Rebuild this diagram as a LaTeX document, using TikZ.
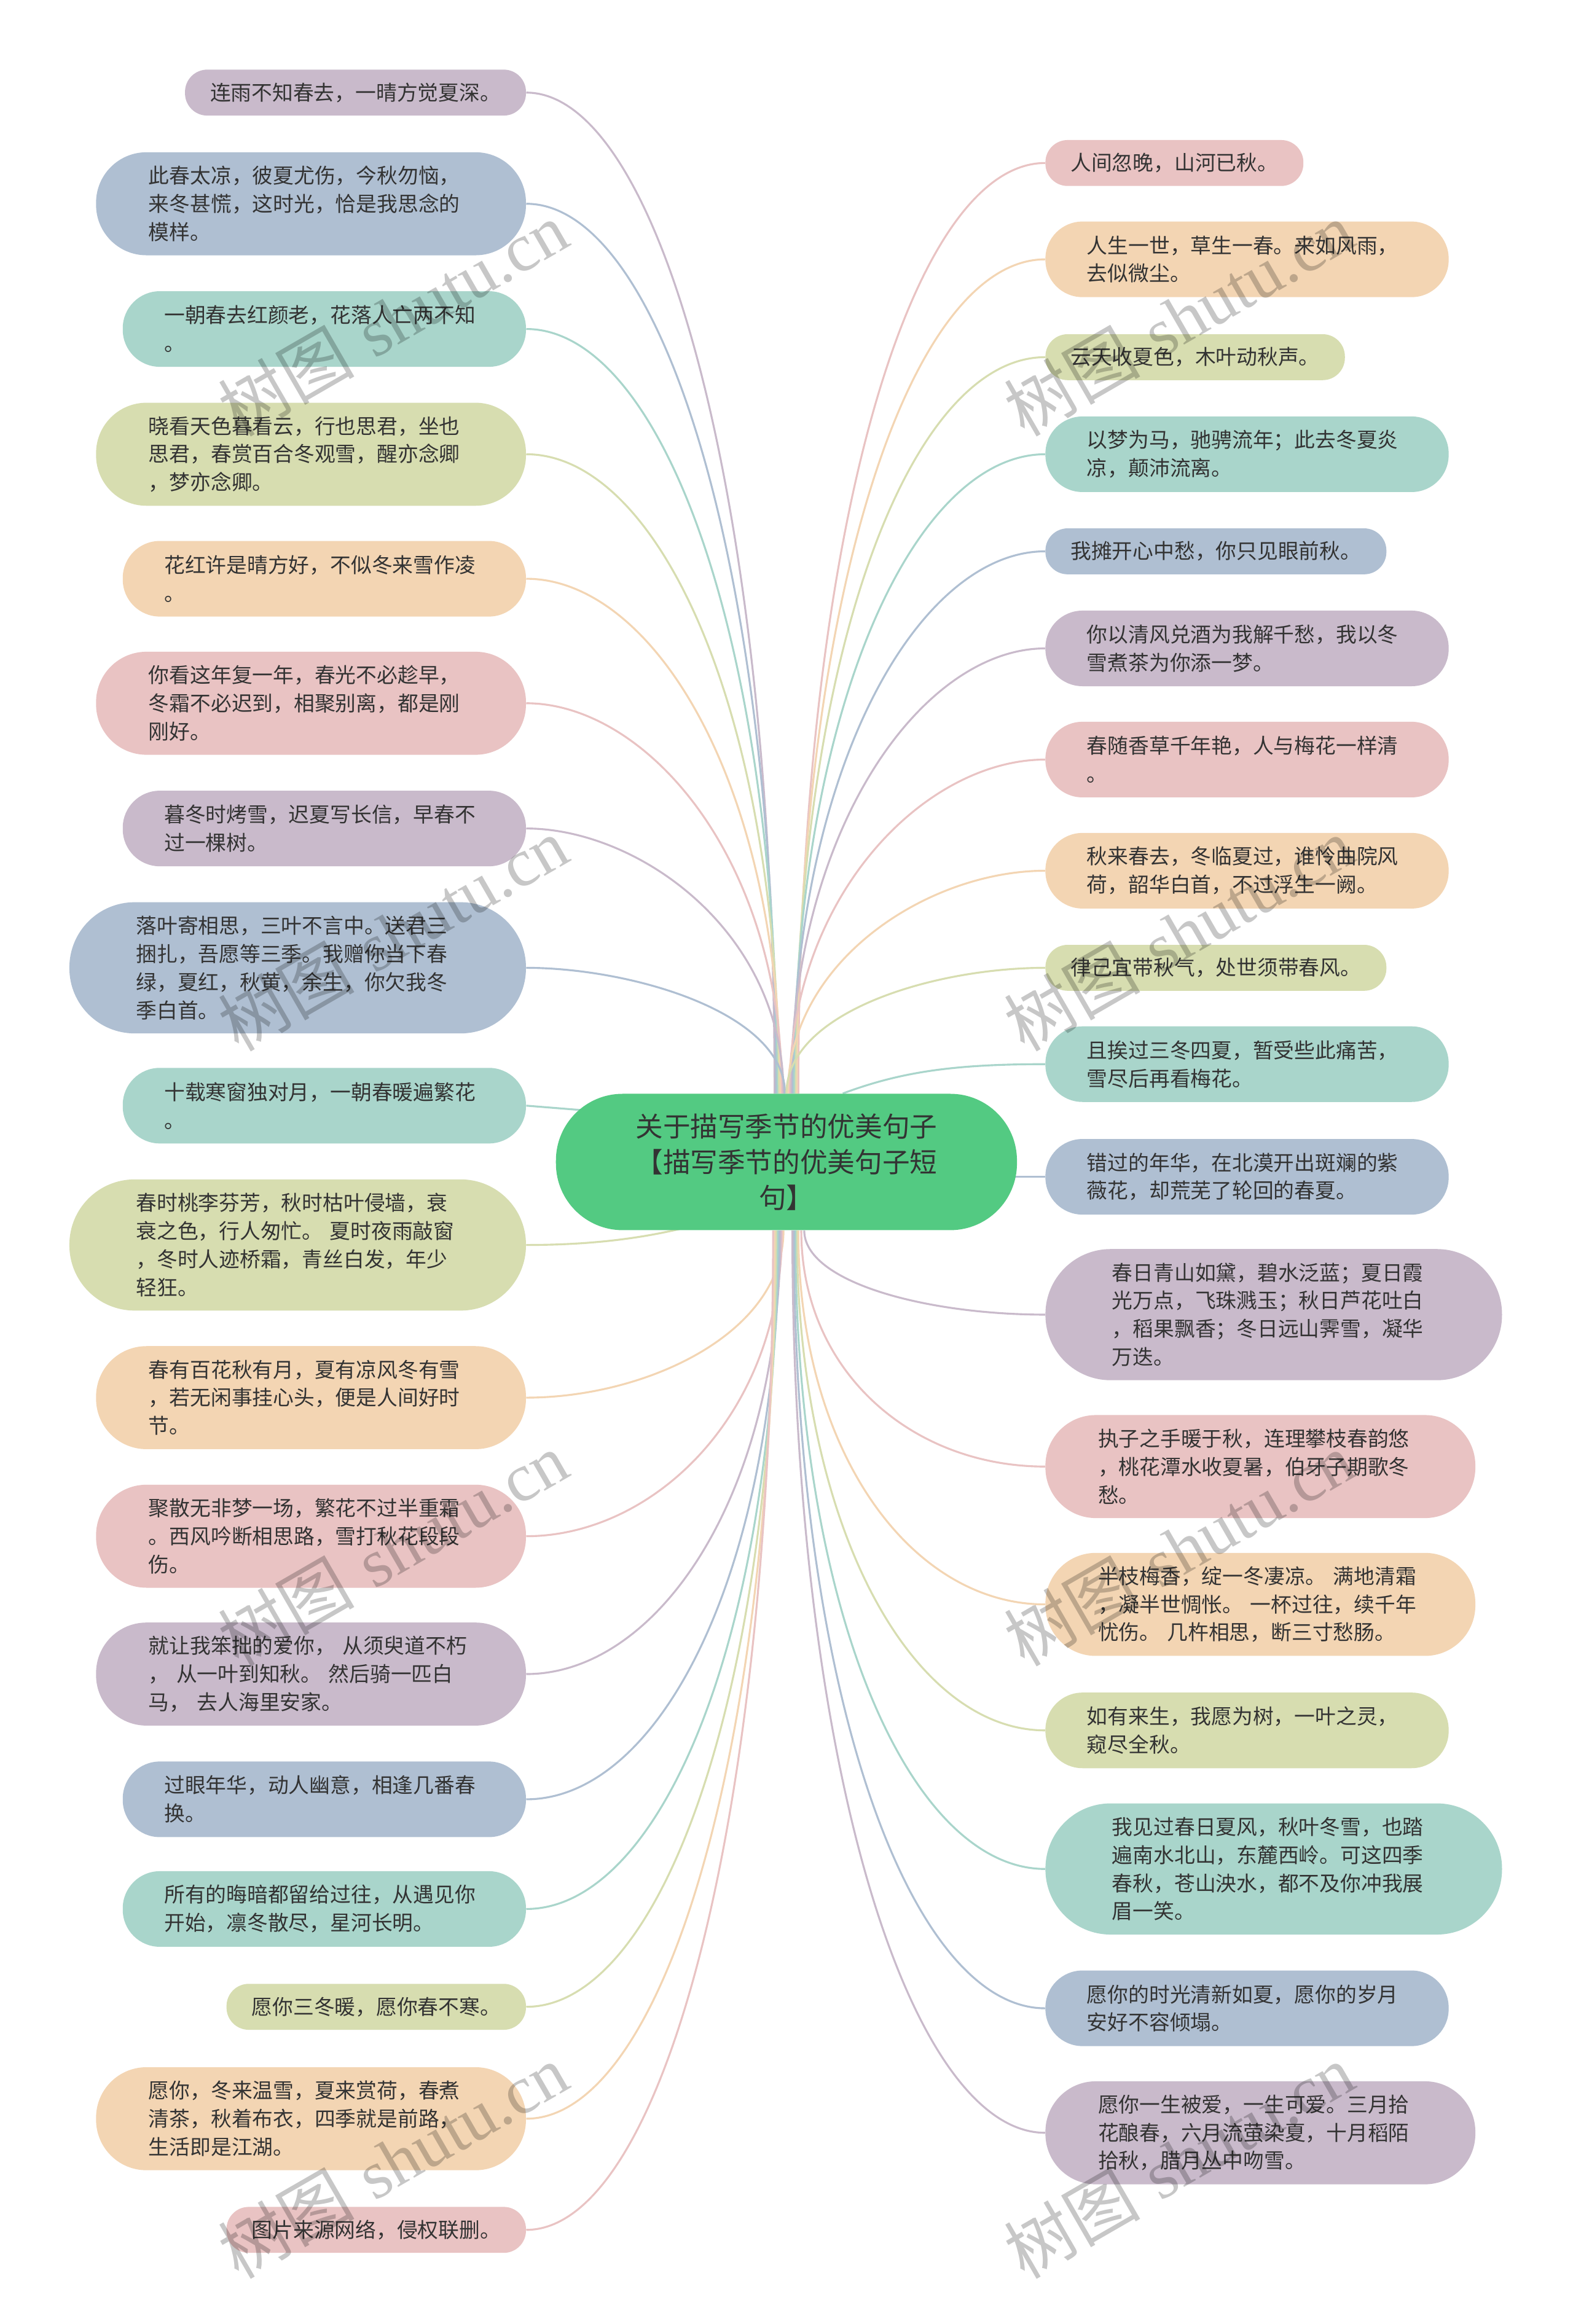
\documentclass[tikz,border=0pt]{standalone}
\usepackage{fontspec}
\newfontfamily\cjk{Noto Sans CJK SC}
\newfontfamily\wmfont{Liberation Serif}
\usetikzlibrary{backgrounds}
\definecolor{cpurple}{HTML}{C9BACB}
\definecolor{cblue}{HTML}{AFBFD2}
\definecolor{cteal}{HTML}{A9D5CB}
\definecolor{colive}{HTML}{D7DDB0}
\definecolor{cpeach}{HTML}{F3D5B3}
\definecolor{cpink}{HTML}{E9C3C3}
\definecolor{cgreen}{HTML}{53CA82}
\definecolor{txt}{HTML}{333333}
\tikzset{
  leaf/.style={font=\cjk\fontsize{14}{19}\selectfont, text=txt, inner ysep=0pt},
  onebox/.style={leaf, minimum height=31pt, inner xsep=17pt, rounded corners=15pt},
  twobox/.style={leaf, minimum height=51pt, inner xsep=28pt, text width=216pt, align=left, rounded corners=25pt},
  threebox/.style={leaf, minimum height=69.5pt, inner xsep=35.5pt, text width=219pt, align=left, rounded corners=34pt},
  fourbox/.style={leaf, minimum height=88.5pt, inner xsep=45pt, text width=218pt, align=left, rounded corners=44pt},
  centerbox/.style={font=\cjk\fontsize{18.5}{24}\selectfont, text=txt, fill=cgreen, align=center,
    minimum width=311pt, minimum height=92pt, rounded corners=45pt},
  link/.style={line width=1.3pt},
  wmark/.style={font=\fontsize{46}{46}\selectfont, text=black, text opacity=0.22, rotate=30},
}
\begin{document}
\begin{tikzpicture}[x=1pt,y=1pt]
  \useasboundingbox (0,0) rectangle (1061,1568);
  % centre
  \node[centerbox] (c) at (530.5,784) {关于描写季节的优美句子\\【描写季节的优美句子短\\句】};
  % left column
  \node[onebox, fill=cpurple, anchor=east] (L1) at (355,1505.5) {连雨不知春去，一晴方觉夏深。};
  \node[threebox, fill=cblue, anchor=east] (L2) at (355,1430.5) {此春太凉，彼夏尤伤，今秋勿恼，\\来冬甚慌，这时光，恰是我思念的\\模样。};
  \node[twobox, fill=cteal, anchor=east] (L3) at (355,1346) {一朝春去红颜老，花落人亡两不知\\。};
  \node[threebox, fill=colive, anchor=east] (L4) at (355,1261.5) {晓看天色暮看云，行也思君，坐也\\思君，春赏百合冬观雪，醒亦念卿\\，梦亦念卿。};
  \node[twobox, fill=cpeach, anchor=east] (L5) at (355,1177.5) {花红许是晴方好，不似冬来雪作凌\\。};
  \node[threebox, fill=cpink, anchor=east] (L6) at (355,1093.5) {你看这年复一年，春光不必趁早，\\冬霜不必迟到，相聚别离，都是刚\\刚好。};
  \node[twobox, fill=cpurple, anchor=east] (L7) at (355,1009) {暮冬时烤雪，迟夏写长信，早春不\\过一棵树。};
  \node[fourbox, fill=cblue, anchor=east] (L8) at (355,915) {落叶寄相思，三叶不言中。送君三\\捆扎，吾愿等三季。我赠你当下春\\绿，夏红，秋黄，余生，你欠我冬\\季白首。};
  \node[twobox, fill=cteal, anchor=east] (L9) at (355,822) {十载寒窗独对月，一朝春暖遍繁花\\。};
  \node[fourbox, fill=colive, anchor=east] (L10) at (355,728) {春时桃李芬芳，秋时枯叶侵墙，衰\\衰之色，行人匆忙。 夏时夜雨敲窗\\，冬时人迹桥霜，青丝白发，年少\\轻狂。};
  \node[threebox, fill=cpeach, anchor=east] (L11) at (355,625) {春有百花秋有月，夏有凉风冬有雪\\，若无闲事挂心头，便是人间好时\\节。};
  \node[threebox, fill=cpink, anchor=east] (L12) at (355,531.5) {聚散无非梦一场，繁花不过半重霜\\。西风吟断相思路，雪打秋花段段\\伤。};
  \node[threebox, fill=cpurple, anchor=east] (L13) at (355,438.5) {就让我笨拙的爱你， 从须臾道不朽\\， 从一叶到知秋。 然后骑一匹白\\马， 去人海里安家。};
  \node[twobox, fill=cblue, anchor=east] (L14) at (355,354) {过眼年华，动人幽意，相逢几番春\\换。};
  \node[twobox, fill=cteal, anchor=east] (L15) at (355,280) {所有的晦暗都留给过往，从遇见你\\开始，凛冬散尽，星河长明。};
  \node[onebox, fill=colive, anchor=east] (L16) at (355,214) {愿你三冬暖，愿你春不寒。};
  \node[threebox, fill=cpeach, anchor=east] (L17) at (355,138.5) {愿你，冬来温雪，夏来赏荷，春煮\\清茶，秋着布衣，四季就是前路，\\生活即是江湖。};
  \node[onebox, fill=cpink, anchor=east] (L18) at (355,63.5) {图片来源网络，侵权联删。};
  % right column
  \node[onebox, fill=cpink, anchor=west] (R1) at (705,1458) {人间忽晚，山河已秋。};
  \node[twobox, fill=cpeach, anchor=west] (R2) at (705,1393) {人生一世，草生一春。来如风雨，\\去似微尘。};
  \node[onebox, fill=colive, anchor=west] (R3) at (705,1327) {云天收夏色，木叶动秋声。};
  \node[twobox, fill=cteal, anchor=west] (R4) at (705,1261.5) {以梦为马，驰骋流年；此去冬夏炎\\凉，颠沛流离。};
  \node[onebox, fill=cblue, anchor=west] (R5) at (705,1196) {我摊开心中愁，你只见眼前秋。};
  \node[twobox, fill=cpurple, anchor=west] (R6) at (705,1130.5) {你以清风兑酒为我解千愁，我以冬\\雪煮茶为你添一梦。};
  \node[twobox, fill=cpink, anchor=west] (R7) at (705,1055.5) {春随香草千年艳，人与梅花一样清\\。};
  \node[twobox, fill=cpeach, anchor=west] (R8) at (705,980.5) {秋来春去，冬临夏过，谁怜曲院风\\荷，韶华白首，不过浮生一阙。};
  \node[onebox, fill=colive, anchor=west] (R9) at (705,915) {律己宜带秋气，处世须带春风。};
  \node[twobox, fill=cteal, anchor=west] (R10) at (705,850) {且挨过三冬四夏，暂受些此痛苦，\\雪尽后再看梅花。};
  \node[twobox, fill=cblue, anchor=west] (R11) at (705,774) {错过的年华，在北漠开出斑斓的紫\\薇花，却荒芜了轮回的春夏。};
  \node[fourbox, fill=cpurple, anchor=west] (R12) at (705,681) {春日青山如黛，碧水泛蓝；夏日霞\\光万点，飞珠溅玉；秋日芦花吐白\\，稻果飘香；冬日远山霁雪，凝华\\万迭。};
  \node[threebox, fill=cpink, anchor=west] (R13) at (705,578.5) {执子之手暖于秋，连理攀枝春韵悠\\，桃花潭水收夏暑，伯牙子期歌冬\\愁。};
  \node[threebox, fill=cpeach, anchor=west] (R14) at (705,485.5) {半枝梅香，绽一冬凄凉。 满地清霜\\，凝半世惆怅。 一杯过往，续千年\\忧伤。 几杵相思，断三寸愁肠。};
  \node[twobox, fill=colive, anchor=west] (R15) at (705,400.5) {如有来生，我愿为树，一叶之灵，\\窥尽全秋。};
  \node[fourbox, fill=cteal, anchor=west] (R16) at (705,307) {我见过春日夏风，秋叶冬雪，也踏\\遍南水北山，东麓西岭。可这四季\\春秋，苍山泱水，都不及你冲我展\\眉一笑。};
  \node[twobox, fill=cblue, anchor=west] (R17) at (705,213) {愿你的时光清新如夏，愿你的岁月\\安好不容倾塌。};
  \node[threebox, fill=cpurple, anchor=west] (R18) at (705,129) {愿你一生被爱，一生可爱。三月拾\\花酿春，六月流萤染夏，十月稻陌\\拾秋，腊月丛中吻雪。};
  % connectors
  \begin{pgfonlayer}{background}
    \fill[white] (0,0) rectangle (1061,1568);
    \draw[link, cpurple] (L1.east) .. controls +(90,0) and +(0,400) .. ([xshift=-8pt]c.north);
    \draw[link, cblue] (L2.east) .. controls +(90,0) and +(0,360) .. ([xshift=-7pt]c.north);
    \draw[link, cteal] (L3.east) .. controls +(90,0) and +(0,310) .. ([xshift=-6pt]c.north);
    \draw[link, colive] (L4.east) .. controls +(88,0) and +(0,260) .. ([xshift=-5pt]c.north);
    \draw[link, cpeach] (L5.east) .. controls +(85,0) and +(0,210) .. ([xshift=-4pt]c.north);
    \draw[link, cpink] (L6.east) .. controls +(80,0) and +(0,160) .. ([xshift=-3pt]c.north);
    \draw[link, cpurple] (L7.east) .. controls +(75,0) and +(0,110) .. ([xshift=-2pt]c.north);
    \draw[link, cblue] (L8.east) .. controls +(70,0) and +(0,55) .. ([xshift=-1pt]c.north);
    \draw[link, cteal] (L9.east) -- ([xshift=30pt,yshift=34pt]c.west);
    \draw[link, colive] (L10.east) .. controls +(50,0) and +(-30,-8) .. ([xshift=-60pt,yshift=4pt]c.south);
    \draw[link, cpeach] (L11.east) .. controls +(80,0) and +(0,-70) .. ([xshift=-2pt]c.south);
    \draw[link, cpink] (L12.east) .. controls +(85,0) and +(0,-125) .. ([xshift=-3pt]c.south);
    \draw[link, cpurple] (L13.east) .. controls +(88,0) and +(0,-180) .. ([xshift=-4pt]c.south);
    \draw[link, cblue] (L14.east) .. controls +(90,0) and +(0,-230) .. ([xshift=-5pt]c.south);
    \draw[link, cteal] (L15.east) .. controls +(90,0) and +(0,-275) .. ([xshift=-6pt]c.south);
    \draw[link, colive] (L16.east) .. controls +(90,0) and +(0,-315) .. ([xshift=-7pt]c.south);
    \draw[link, cpeach] (L17.east) .. controls +(90,0) and +(0,-360) .. ([xshift=-8pt]c.south);
    \draw[link, cpink] (L18.east) .. controls +(90,0) and +(0,-405) .. ([xshift=-9pt]c.south);
    \draw[link, cpink] (R1.west) .. controls +(-90,0) and +(0,380) .. ([xshift=8pt]c.north);
    \draw[link, cpeach] (R2.west) .. controls +(-90,0) and +(0,340) .. ([xshift=7pt]c.north);
    \draw[link, colive] (R3.west) .. controls +(-90,0) and +(0,300) .. ([xshift=6pt]c.north);
    \draw[link, cteal] (R4.west) .. controls +(-88,0) and +(0,260) .. ([xshift=5pt]c.north);
    \draw[link, cblue] (R5.west) .. controls +(-85,0) and +(0,220) .. ([xshift=4pt]c.north);
    \draw[link, cpurple] (R6.west) .. controls +(-82,0) and +(0,180) .. ([xshift=3pt]c.north);
    \draw[link, cpink] (R7.west) .. controls +(-80,0) and +(0,135) .. ([xshift=2pt]c.north);
    \draw[link, cpeach] (R8.west) .. controls +(-78,0) and +(0,90) .. ([xshift=1pt]c.north);
    \draw[link, colive] (R9.west) .. controls +(-75,0) and +(0,55) .. (c.north);
    \draw[link, cteal] (R10.west) .. controls +(-60,0) and +(40,15) .. ([xshift=38pt]c.north);
    \draw[link, cblue] (R11.west) -- ([xshift=-14pt,yshift=-10pt]c.east);
    \draw[link, cpurple] (R12.west) .. controls +(-80,0) and +(0,-35) .. ([xshift=12pt]c.south);
    \draw[link, cpink] (R13.west) .. controls +(-90,0) and +(0,-95) .. ([xshift=10pt]c.south);
    \draw[link, cpeach] (R14.west) .. controls +(-90,0) and +(0,-150) .. ([xshift=8pt]c.south);
    \draw[link, colive] (R15.west) .. controls +(-90,0) and +(0,-200) .. ([xshift=7pt]c.south);
    \draw[link, cteal] (R16.west) .. controls +(-90,0) and +(0,-260) .. ([xshift=6pt]c.south);
    \draw[link, cblue] (R17.west) .. controls +(-90,0) and +(0,-315) .. ([xshift=5pt]c.south);
    \draw[link, cpurple] (R18.west) .. controls +(-90,0) and +(0,-365) .. ([xshift=4pt]c.south);
  \end{pgfonlayer}
  % watermarks
  \node[wmark] (w1) at (265,1353) {{\cjk 树图} {\wmfont shutu.cn}};
  \node[wmark] (w2) at (265,938) {{\cjk 树图} {\wmfont shutu.cn}};
  \node[wmark] (w3) at (265,523) {{\cjk 树图} {\wmfont shutu.cn}};
  \node[wmark] (w4) at (265,110) {{\cjk 树图} {\wmfont shutu.cn}};
  \node[wmark] (w5) at (795,1353) {{\cjk 树图} {\wmfont shutu.cn}};
  \node[wmark] (w6) at (795,938) {{\cjk 树图} {\wmfont shutu.cn}};
  \node[wmark] (w7) at (795,523) {{\cjk 树图} {\wmfont shutu.cn}};
  \node[wmark] (w8) at (795,110) {{\cjk 树图} {\wmfont shutu.cn}};
\end{tikzpicture}
\end{document}
